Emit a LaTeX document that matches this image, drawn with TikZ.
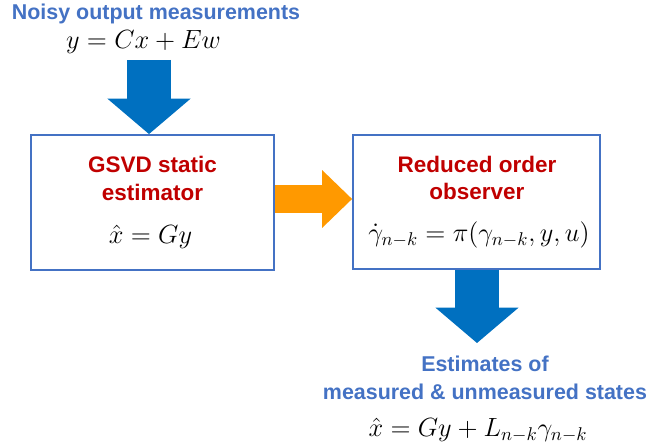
\documentclass[tikz,border=0pt]{standalone}
\usepackage{fix-cm}
\usepackage[no-math]{fontspec}
\newfontfamily\sanstext{Liberation Sans}
\usepackage{amsmath}
\usepackage{tikz}
\usetikzlibrary{arrows.meta}

\definecolor{titleblue}{HTML}{4472C4}
\definecolor{boxblue}{HTML}{4472C4}
\definecolor{namered}{HTML}{C00000}
\definecolor{arrowblue}{HTML}{0070C0}
\definecolor{arroworange}{HTML}{FF9900}

\begin{document}
\begin{tikzpicture}[
  x=0.02cm, y=-0.02cm,
  block/.style={draw=boxblue, line width=1.1pt, inner sep=0pt},
  heading/.style={anchor=base, inner sep=0pt, text=titleblue,
    font=\sanstext\bfseries\fontsize{12.2}{14}\selectfont},
  blockname/.style={anchor=base, inner sep=0pt, text=namered,
    font=\sanstext\bfseries\fontsize{12.8}{15}\selectfont},
  formula/.style={anchor=base, inner sep=0pt, font=\fontsize{15}{18}\selectfont},
  flowdown/.style={draw=arrowblue, line width=0.87cm,
    -{Triangle[length=0.71cm, width=1.67cm, line width=0pt]}},
  flowright/.style={draw=arroworange, line width=0.58cm,
    -{Triangle[length=0.6cm, width=1.16cm, line width=0pt]}}
]
\useasboundingbox (0,0) rectangle (650,446);

% --- Input (top) ---
\node[heading] (title) at (156,20) {Noisy output measurements};
\node[formula] (meas)  at (143.5,49) {$y = Cx + Ew$};

% --- Blocks ---
\node[block, minimum width=4.86cm, minimum height=2.7cm] (est) at (152.4,202.5) {};
\node[blockname] (estA)  at (152.5,173) {GSVD static};
\node[blockname] (estB)  at (152.5,201) {estimator};
\node[formula]   (estEq) at (150.5,244) {$\hat{x} = Gy$};

\node[block, minimum width=4.94cm, minimum height=2.68cm] (obs) at (476.5,202) {};
\node[blockname] (obsA)  at (477,172.7) {Reduced order};
\node[blockname] (obsB)  at (477,200) {observer};
\node[formula]   (obsEq) at (479,242) {$\dot{\gamma}_{n-k} = \pi(\gamma_{n-k}, y, u)$};

% --- Output (bottom) ---
\node[heading] (resA)  at (485,372) {Estimates of};
\node[heading] (resB)  at (485,399) {measured \& unmeasured states};
\node[formula] (resEq) at (478,437) {$\hat{x} = Gy + L_{n-k}\gamma_{n-k}$};

% --- Block arrows ---
\coordinate (in)   at (149,60);
\coordinate (link) at (313,199);
\coordinate (out)  at (477,343);

\draw[flowdown]  (in) -- (in |- est.north);
\draw[flowright] (est.east |- link) -- (obs.west |- link);
\draw[flowdown]  (out |- obs.south) -- (out);

\end{tikzpicture}
\end{document}
